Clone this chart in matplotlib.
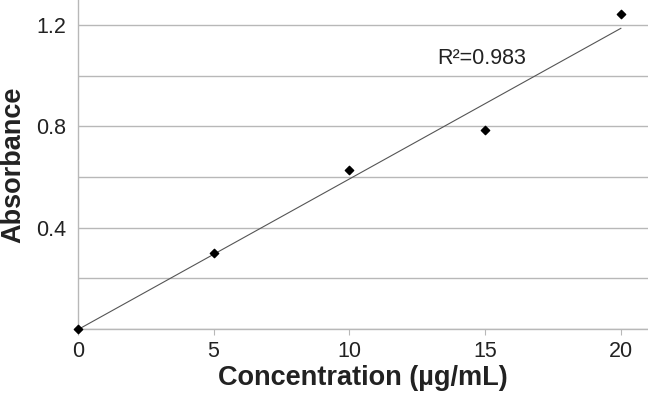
import numpy as np
import matplotlib.pyplot as plt
from matplotlib.ticker import MultipleLocator

plt.rcParams['font.family'] = ['Liberation Sans', 'DejaVu Sans']

# data
conc = [0, 5, 10, 15, 20]
absorb = [0.0, 0.300, 0.628, 0.787, 1.246]
r2_text = "R²=0.983"

# linear trend line through the points
slope, intercept = np.polyfit(conc, absorb, 1)
fit_x = np.array([conc[0], conc[-1]])
fit_y = slope * fit_x + intercept

fig = plt.figure(figsize=(6.48, 4.0), dpi=100)
ax = fig.add_axes([0.12, 0.178, 0.88, 0.822])

ax.plot(fit_x, fit_y, color="#555555", linewidth=0.8, zorder=2)
ax.scatter(conc, absorb, marker="D", s=18, color="black", zorder=3,
           clip_on=False)

ax.text(13.25, 1.048, r2_text, fontsize=15.5, color="#222222",
        va="baseline")

ax.set_xlim(0, 21)
ax.set_ylim(0, 1.3)
ax.xaxis.set_major_locator(MultipleLocator(5))
ax.yaxis.set_minor_locator(MultipleLocator(0.2))
ax.set_yticks([0.4, 0.8, 1.2])
ax.set_yticklabels(["0.4", "0.8", "1.2"])

ax.grid(True, axis="y", which="both", color="#b8b8b8", linewidth=1)
ax.set_axisbelow(True)

for s in ["top", "right"]:
    ax.spines[s].set_visible(False)
for s in ["left", "bottom"]:
    ax.spines[s].set_color("#b8b8b8")
    ax.spines[s].set_linewidth(1)

ax.tick_params(axis="x", length=4, color="#b8b8b8", labelsize=15.5,
               labelcolor="#222222", pad=5)
ax.tick_params(axis="y", which="both", length=0, labelsize=15.5,
               labelcolor="#222222", pad=8.5)

ax.set_xlabel("Concentration (µg/mL)", fontsize=19.5, fontweight="bold",
              color="#222222", labelpad=2)
ax.set_ylabel("Absorbance", fontsize=19.5, fontweight="bold",
              color="#222222", labelpad=7)

fig.savefig("out.png", dpi=100)
